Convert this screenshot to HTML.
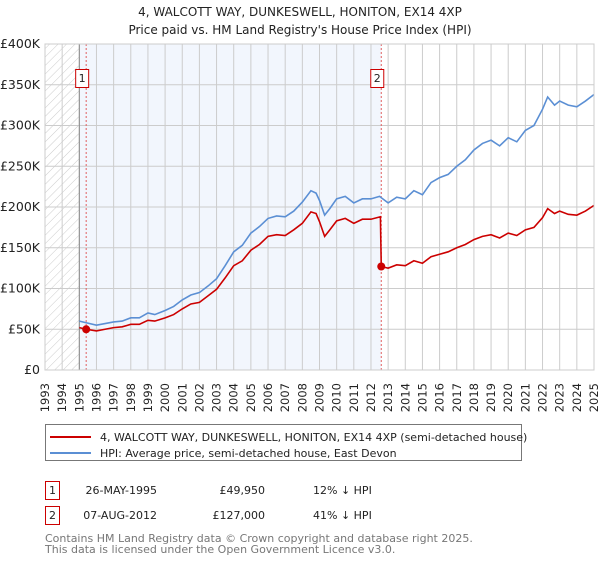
<!DOCTYPE html>
<html><head><meta charset="utf-8"><style>
body{margin:0;background:#fff;font-family:"DejaVu Sans","Liberation Sans",sans-serif;}
svg text{font-family:"DejaVu Sans","Liberation Sans",sans-serif;}
</style></head><body>
<svg id="chart" width="600" height="560" viewBox="0 0 600 560" xmlns="http://www.w3.org/2000/svg">
<defs><pattern id="hatch" width="6" height="6" patternUnits="userSpaceOnUse" patternTransform="rotate(45)"><line x1="0" y1="0" x2="0" y2="6" stroke="#ccc" stroke-width="1"/></pattern></defs>
<text x="300" y="16" text-anchor="middle" font-size="12" fill="#222">4, WALCOTT WAY, DUNKESWELL, HONITON, EX14 4XP</text>
<text x="300" y="34" text-anchor="middle" font-size="12" fill="#222">Price paid vs. HM Land Registry's House Price Index (HPI)</text>
<g id="plot"></g>
<g>
<rect x="45.5" y="424.5" width="476" height="36" fill="#fff" stroke="#777"/>
<line x1="50" y1="437" x2="91" y2="437" stroke="#cc0000" stroke-width="2"/>
<text x="100" y="441" font-size="11" fill="#222">4, WALCOTT WAY, DUNKESWELL, HONITON, EX14 4XP (semi-detached house)</text>
<line x1="50" y1="453" x2="91" y2="453" stroke="#5b8fd4" stroke-width="2"/>
<text x="100" y="457" font-size="11" fill="#222">HPI: Average price, semi-detached house, East Devon</text>
</g>
<g font-size="11" fill="#222">
<rect x="45.5" y="481.5" width="14" height="18" fill="#fff" stroke="#cc0000"/>
<text x="52.5" y="494" text-anchor="middle">1</text>
<text x="157" y="494" text-anchor="end">26-MAY-1995</text>
<text x="265" y="494" text-anchor="end">£49,950</text>
<text x="313" y="494">12% ↓ HPI</text>
<rect x="45.5" y="506.5" width="14" height="18" fill="#fff" stroke="#cc0000"/>
<text x="52.5" y="519" text-anchor="middle">2</text>
<text x="157" y="519" text-anchor="end">07-AUG-2012</text>
<text x="265" y="519" text-anchor="end">£127,000</text>
<text x="313" y="519">41% ↓ HPI</text>
</g>
<text x="45" y="542" font-size="11" fill="#777">Contains HM Land Registry data © Crown copyright and database right 2025.</text>
<text x="45" y="553" font-size="11" fill="#777">This data is licensed under the Open Government Licence v3.0.</text>
</svg>
<script>
const years=[1993,1994,1995,1996,1997,1998,1999,2000,2001,2002,2003,2004,2005,2006,2007,2008,2009,2010,2011,2012,2013,2014,2015,2016,2017,2018,2019,2020,2021,2022,2023,2024,2025];
const yTicks=[0,50,100,150,200,250,300,350,400];
const yTickLabels=["£0","£50K","£100K","£150K","£200K","£250K","£300K","£350K","£400K"];
const hpiT=[1995.0,1995.4,1996,1996.5,1997,1997.5,1998,1998.5,1999,1999.4,2000,2000.5,2001,2001.5,2002,2002.5,2003,2003.5,2004,2004.5,2005,2005.5,2006,2006.5,2007,2007.5,2008,2008.5,2008.8,2009,2009.3,2009.6,2010,2010.5,2011,2011.5,2012,2012.5,2013,2013.5,2014,2014.5,2015,2015.5,2016,2016.5,2017,2017.5,2018,2018.5,2019,2019.5,2020,2020.5,2021,2021.5,2022,2022.3,2022.7,2023,2023.5,2024,2024.5,2025];
const hpiV=[60,58,55,57,59,60,64,64,70,68,73,78,86,92,95,103,112,128,145,153,168,176,186,189,188,195,206,220,217,208,190,198,210,213,205,210,210,213,205,212,210,220,215,230,236,240,250,258,270,278,282,275,285,280,294,300,320,335,325,330,325,323,330,338];
const priceT=[1995.0,1995.4,1996,1996.5,1997,1997.5,1998,1998.5,1999,1999.4,2000,2000.5,2001,2001.5,2002,2002.5,2003,2003.5,2004,2004.5,2005,2005.5,2006,2006.5,2007,2007.5,2008,2008.5,2008.8,2009,2009.3,2009.6,2010,2010.5,2011,2011.5,2012,2012.55,2012.6,2013,2013.5,2014,2014.5,2015,2015.5,2016,2016.5,2017,2017.5,2018,2018.5,2019,2019.5,2020,2020.5,2021,2021.5,2022,2022.3,2022.7,2023,2023.5,2024,2024.5,2025];
const priceV=[52,50,48,50,52,53,56,56,61,60,64,68,75,81,83,91,99,113,128,134,147,154,164,166,165,172,180,194,192,182,164,172,183,186,180,185,185,188,127,125,129,128,134,131,139,142,145,150,154,160,164,166,162,168,165,172,175,187,198,192,195,191,190,195,202];
const saleT=[1995.4,2012.6];
const saleV=[49.95,127];
const saleLabels=["1","2"];

const X0=45,X1=594,Y0=370,Y1=44;
const x=t=>X0+(t-1993)/(2025-1993)*(X1-X0);
const y=v=>Y0-v/400*(Y0-Y1);
const NS="http://www.w3.org/2000/svg";
const g=document.getElementById('plot');
function mk(tag,attrs,parent){const e=document.createElementNS(NS,tag);for(const k in attrs)e.setAttribute(k,attrs[k]);(parent||g).appendChild(e);return e;}

let r=mk('rect',{x:x(1995),y:Y1,width:x(saleT[1])-x(1995),height:Y0-Y1,fill:'#f2f6fd'});


r=mk('rect',{x:X0,y:Y1,width:x(1995)-X0,height:Y0-Y1,fill:'url(#hatch)'});



years.forEach(yr=>{
  const l=mk('line',{x1:x(yr),x2:x(yr),y1:Y1,y2:Y0,stroke:'#ccc','stroke-width':1});
  
  
  const tx=mk('text',{transform:`translate(${x(yr)+4},383) rotate(-90)`,'text-anchor':'end','font-size':11.5,fill:'#222'});
  
  
  tx.textContent=yr;
});
yTicks.forEach((v,i)=>{
  const l=mk('line',{x1:X0,x2:X1,y1:y(v),y2:y(v),stroke:'#ccc','stroke-width':1});
  
  
  const tx=mk('text',{x:40,y:y(v)+4,'text-anchor':'end','font-size':12.5,fill:'#222'});
  
  
  tx.textContent=yTickLabels[i];
});
let b=mk('line',{x1:x(1995),x2:x(1995),y1:Y1,y2:Y0,stroke:'#888','stroke-width':1});



saleT.forEach((t,i)=>{
  const l=mk('line',{x1:x(t),x2:x(t),y1:Y1,y2:Y0,stroke:'#e06060','stroke-width':1,'stroke-dasharray':'2,2'});
  
  
});

const hp=mk('polyline',{points:hpiT.map((t,i)=>x(t)+','+y(hpiV[i])).join(' '),fill:'none',stroke:'#5b8fd4','stroke-width':1.6});


const pp=mk('polyline',{points:priceT.map((t,i)=>x(t)+','+y(priceV[i])).join(' '),fill:'none',stroke:'#cc0000','stroke-width':1.6});



saleT.forEach((t,i)=>{
  const c=mk('circle',{cx:x(t),cy:y(saleV[i]),r:4,fill:'#cc0000'});
  
  
  const bx=x(t)-11;
  const rr=mk('rect',{x:bx+0.5,y:69.5,width:13,height:18,fill:'#fff',stroke:'#cc0000'});
  
  
  const tx=mk('text',{x:bx+7,y:82,'text-anchor':'middle','font-size':11,fill:'#222'});
  
  
  tx.textContent=saleLabels[i];
});
const fr=mk('rect',{x:X0,y:Y1,width:X1-X0,height:Y0-Y1,fill:'none',stroke:'#ccc'});


</script>
</body></html>
